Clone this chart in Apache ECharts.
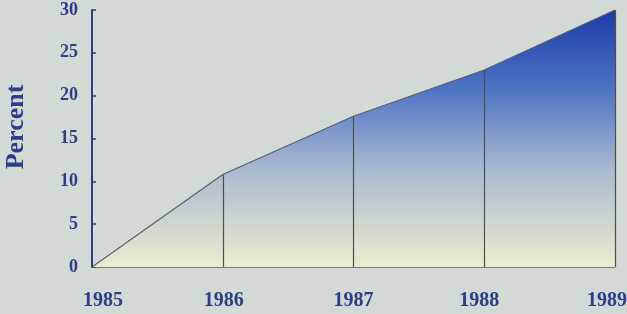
<!DOCTYPE html>
<html>
<head>
<meta charset="utf-8">
<script src="https://cdn.jsdelivr.net/npm/echarts@6/dist/echarts.min.js"></script>
<style>
html,body{margin:0;padding:0;background:#d3dad5;}
#c{width:627px;height:314px;}
</style>
</head>
<body>
<div id="c"></div>
<script>
var years = ['1985', '1986', '1987', '1988', '1989'];
var percent = [0, 10.8, 17.6, 23, 30];
var yTicks = [0, 5, 10, 15, 20, 25, 30];
var axisTitle = 'Percent';

// visual nudges of the year labels (px), as in the original artwork
var labelShift = [11, 1, 0, -5, -8];

var chart = echarts.init(document.getElementById('c'), null, {renderer: 'canvas'});
var labelColor = '#2b3d8c';
var font = '"Liberation Serif", "DejaVu Serif", serif';

var dropLines = [];
for (var i = 1; i < years.length; i++) {
  dropLines.push([{coord: [years[i], 0]}, {coord: [years[i], percent[i]]}]);
}

var rich = {};
labelShift.forEach(function (s, i) {
  rich['s' + i] = {
    color: labelColor, fontFamily: font, fontWeight: 'bold', fontSize: 20,
    padding: s >= 0 ? [0, 0, 0, 2 * s] : [0, -2 * s, 0, 0]
  };
});

chart.setOption({
  backgroundColor: '#d3dad5',
  animation: false,
  grid: {left: 92, right: 12, top: 10, bottom: 47, containLabel: false, outerBoundsMode: 'none'},
  xAxis: {
    type: 'category',
    data: years,
    boundaryGap: false,
    axisLine: {lineStyle: {color: '#555a5a', width: 1.5}},
    axisTick: {show: false},
    axisLabel: {
      color: labelColor, fontFamily: font, fontWeight: 'bold', fontSize: 20, margin: 24,
      formatter: function (v, idx) { return '{s' + idx + '|' + v + '}'; },
      rich: rich
    }
  },
  yAxis: {
    type: 'value',
    min: yTicks[0],
    max: yTicks[yTicks.length - 1],
    interval: 5,
    axisLine: {show: true, lineStyle: {color: '#2b3d8c', width: 2}},
    axisTick: {show: true, inside: true, length: 4, lineStyle: {color: '#2b3d8c', width: 1.5}},
    splitLine: {show: false},
    axisLabel: {color: labelColor, fontFamily: font, fontWeight: 'bold', fontSize: 18, margin: 14}
  },
  graphic: [{
    type: 'text',
    x: 16,
    y: 127,
    rotation: Math.PI / 2,
    style: {
      text: axisTitle,
      fill: labelColor,
      font: 'bold 26px ' + font,
      align: 'center',
      verticalAlign: 'middle'
    }
  }],
  series: [{
    type: 'line',
    data: percent,
    symbol: 'none',
    lineStyle: {color: '#5a6068', width: 1.2},
    areaStyle: {
      color: new echarts.graphic.LinearGradient(0, 10, 0, 267, [
        {offset: 0, color: '#1d3aa6'},
        {offset: 0.3, color: '#4d72c2'},
        {offset: 0.62, color: '#a9b9d1'},
        {offset: 1, color: '#eaedcf'}
      ], true),
      opacity: 1
    },
    markLine: {
      silent: true,
      symbol: ['none', 'none'],
      label: {show: false},
      lineStyle: {color: '#4a4f55', width: 1.2, type: 'solid'},
      data: dropLines
    }
  }]
});
</script>
</body>
</html>
